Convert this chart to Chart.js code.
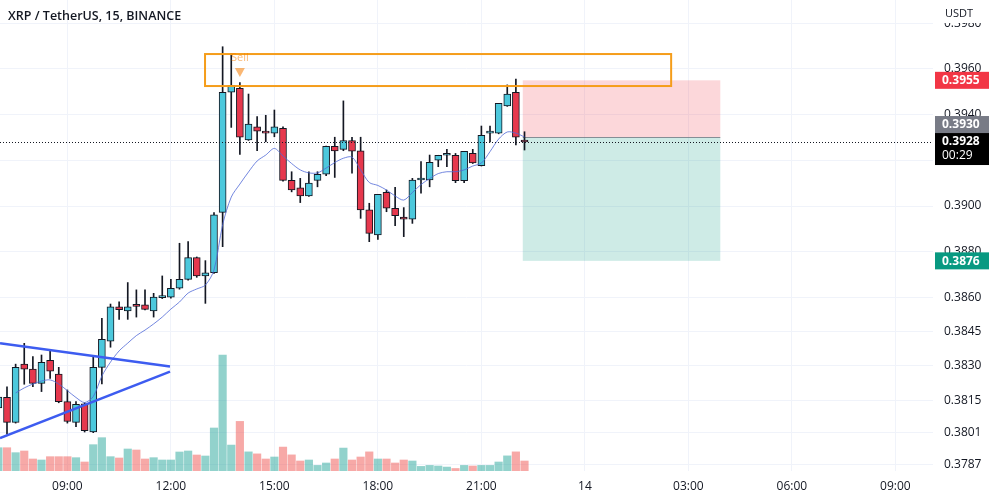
<!DOCTYPE html>
<html>
<head>
<meta charset="utf-8">
<script src="https://cdn.jsdelivr.net/npm/chart.js@4/dist/chart.umd.min.js"></script>
<style>
html, body { margin: 0; padding: 0; background: #fff; }
canvas { display: block; }
</style>
</head>
<body>
<canvas id="chart" width="992" height="501"></canvas>
<script>
// 15 min bars, bar 0 = 07:15, bar -1 = 07:00
const firstBar = -1;
const opens  = [0.38116,0.38163,0.38053,0.38308,0.38286,0.38224,0.38325,0.38264,0.38144,0.38053,0.38134,0.38011,0.38294,0.38409,0.38559,0.38541,0.38570,0.38568,0.38541,0.38599,0.38601,0.38640,0.38679,0.38774,0.38694,0.38708,0.38972,0.39498,0.39515,0.39289,0.39347,0.39327,0.39319,0.39340,0.39112,0.39080,0.39044,0.39112,0.39139,0.39261,0.39248,0.39286,0.39241,0.38983,0.38873,0.39060,0.38990,0.38952,0.38942,0.39114,0.39114,0.39201,0.39222,0.39222,0.39111,0.39230,0.39176,0.39319,0.39319,0.39438,0.39498,0.39289];
const highs  = [0.38173,0.38209,0.38308,0.38399,0.38341,0.38348,0.38370,0.38294,0.38195,0.38144,0.38139,0.38341,0.38509,0.38571,0.38581,0.38665,0.38633,0.38633,0.38618,0.38694,0.38679,0.38837,0.38844,0.38777,0.38761,0.38971,0.39697,0.39668,0.39540,0.39490,0.39391,0.39397,0.39420,0.39347,0.39150,0.39121,0.39150,0.39150,0.39262,0.39301,0.39460,0.39300,0.39301,0.39012,0.39051,0.39070,0.39082,0.38993,0.39121,0.39194,0.39223,0.39222,0.39248,0.39230,0.39239,0.39248,0.39350,0.39350,0.39449,0.39530,0.39555,0.39325];
const lows   = [0.38112,0.38002,0.38050,0.38220,0.38209,0.38188,0.38246,0.38139,0.38050,0.38034,0.38011,0.38008,0.38221,0.38382,0.38504,0.38504,0.38514,0.38545,0.38514,0.38595,0.38597,0.38636,0.38676,0.38688,0.38574,0.38705,0.38822,0.39344,0.39226,0.39287,0.39242,0.39281,0.39303,0.39109,0.39062,0.39015,0.39042,0.39084,0.39133,0.39125,0.39242,0.39144,0.38946,0.38844,0.38854,0.38975,0.38914,0.38866,0.38924,0.39056,0.39084,0.39172,0.39172,0.39102,0.39102,0.39186,0.39175,0.39281,0.39316,0.39436,0.39267,0.39245];
const closes = [0.38164,0.38053,0.38294,0.38286,0.38224,0.38316,0.38277,0.38144,0.38057,0.38132,0.38017,0.38294,0.38417,0.38559,0.38546,0.38559,0.38561,0.38548,0.38601,0.38601,0.38640,0.38679,0.38774,0.38694,0.38708,0.38961,0.39498,0.39528,0.39301,0.39358,0.39328,0.39319,0.39347,0.39112,0.39070,0.39044,0.39100,0.39139,0.39261,0.39241,0.39286,0.39240,0.38983,0.38880,0.39051,0.38990,0.38958,0.38942,0.39114,0.39121,0.39191,0.39222,0.39230,0.39111,0.39239,0.39189,0.39309,0.39321,0.39449,0.39490,0.39301,0.39280];
const volumes = [582,582,458,500,300,275,358,358,358,333,225,658,833,358,325,550,525,300,333,275,275,475,500,400,375,1075,2900,648,1240,478,428,300,350,598,403,250,275,140,200,300,573,275,350,478,300,300,200,275,250,115,140,125,98,63,140,125,140,140,225,378,478,250];

// moving average, from bar 1
const maStart = 1;
const ma = [0.38182,0.38204,0.38221,0.38234,0.38239,0.38221,0.38192,0.38162,0.38140,0.38166,0.38256,0.38317,0.38366,0.38400,0.38433,0.38457,0.38484,0.38514,0.38549,0.38580,0.38619,0.38637,0.38654,0.38720,0.38918,0.39039,0.39096,0.39149,0.39197,0.39223,0.39252,0.39219,0.39186,0.39158,0.39145,0.39145,0.39166,0.39190,0.39209,0.39214,0.39158,0.39103,0.39090,0.39070,0.39044,0.39026,0.39059,0.39094,0.39120,0.39142,0.39150,0.39150,0.39158,0.39175,0.39188,0.39238,0.39293,0.39324,0.39319,0.39302];

const trendUpper = [[-0.81, 0.38399], [18.9, 0.38298]];
const trendLower = [[-0.81, 0.37984], [18.9, 0.38275]];

const xTickPos = [7, 19, 31, 43, 55, 67, 79, 91, 103];
const xTickLabels = ['09:00', '12:00', '15:00', '18:00', '21:00', '14', '03:00', '06:00', '09:00'];
const yTicks = [0.3787, 0.3801, 0.3815, 0.3830, 0.3845, 0.3860, 0.3880, 0.3900, 0.3920, 0.3940, 0.3960, 0.3980];

const sellBox = { from: 22.96, to: 77.0, top: 0.39665, bottom: 0.39525 };
const sellBar = 27;
const entryPrice = 0.3930, stopPrice = 0.3955, targetPrice = 0.3876;
const positionFrom = 59.8, positionTo = 82.7;
const lastPrice = 0.3928, countdown = '00:29';

const FONT = "'Open Sans', 'Noto Sans', sans-serif";
const idx = opens.map((_, i) => firstBar + i);
const up = opens.map((o, i) => closes[i] >= o);

function tag(ctx, yc, bg, text) {
    ctx.fillStyle = bg;
    ctx.fillRect(935, yc - 8.5, 54, 17);
    ctx.fillStyle = '#fff';
    ctx.font = 'bold 12px ' + FONT;
    ctx.textBaseline = 'middle';
    ctx.textAlign = 'left';
    ctx.fillText(text, 942, yc + 0.5);
}

const overlay = {
    id: 'overlay',
    beforeDatasetsDraw(chart) {
        const { ctx, scales: { x, y } } = chart;
        const x0 = x.getPixelForValue(positionFrom), x1 = x.getPixelForValue(positionTo);
        const ye = y.getPixelForValue(entryPrice), ys = y.getPixelForValue(stopPrice), yt = y.getPixelForValue(targetPrice);
        ctx.save();
        ctx.fillStyle = 'rgba(242,54,69,0.2)';
        ctx.fillRect(x0, ys, x1 - x0, ye - ys);
        ctx.fillStyle = 'rgba(8,153,129,0.2)';
        ctx.fillRect(x0, ye, x1 - x0, yt - ye);
        ctx.strokeStyle = 'rgba(110,120,130,0.8)';
        ctx.lineWidth = 1;
        ctx.beginPath();
        ctx.moveTo(x0, Math.round(ye) + 0.5);
        ctx.lineTo(x1, Math.round(ye) + 0.5);
        ctx.stroke();
        ctx.restore();
    },
    afterDatasetsDraw(chart) {
        const { ctx, chartArea: a, scales: { x, y } } = chart;
        ctx.save();
        // last price dotted line
        const yl = Math.round(y.getPixelForValue(lastPrice)) + 0.5;
        ctx.strokeStyle = '#131722';
        ctx.lineWidth = 1;
        ctx.setLineDash([1, 2]);
        ctx.beginPath();
        ctx.moveTo(a.left, yl);
        ctx.lineTo(a.right, yl);
        ctx.stroke();
        ctx.setLineDash([]);
        // sell zone
        const bx0 = x.getPixelForValue(sellBox.from), bx1 = x.getPixelForValue(sellBox.to);
        const by0 = y.getPixelForValue(sellBox.top), by1 = y.getPixelForValue(sellBox.bottom);
        ctx.strokeStyle = '#f59d1a';
        ctx.lineWidth = 2;
        ctx.strokeRect(bx0, by0, bx1 - bx0, by1 - by0);
        // sell signal
        const sx = x.getPixelForValue(sellBar);
        ctx.fillStyle = 'rgba(245,124,0,0.55)';
        ctx.font = '11px ' + FONT;
        ctx.textAlign = 'center';
        ctx.textBaseline = 'middle';
        ctx.fillText('Sell', sx, 58);
        ctx.beginPath();
        ctx.moveTo(sx - 5, 68);
        ctx.lineTo(sx + 5, 68);
        ctx.lineTo(sx, 77);
        ctx.closePath();
        ctx.fill();
        ctx.restore();
    },
    afterDraw(chart) {
        const { ctx, scales: { y } } = chart;
        ctx.save();
        ctx.fillStyle = '#131722';
        ctx.font = '600 12.5px ' + FONT;
        ctx.textAlign = 'left';
        ctx.textBaseline = 'middle';
        ctx.fillText('XRP / TetherUS, 15, BINANCE', 8, 16);
        // axis header
        ctx.fillStyle = '#fff';
        ctx.fillRect(934, 0, 58, 23);
        ctx.fillStyle = '#131722';
        ctx.font = '11px ' + FONT;
        ctx.fillText('USDT', 945, 14);
        // price tags
        tag(ctx, y.getPixelForValue(stopPrice), '#f23645', stopPrice.toFixed(4));
        tag(ctx, y.getPixelForValue(targetPrice), '#089981', targetPrice.toFixed(4));
        const yl = y.getPixelForValue(lastPrice);
        const top = yl - 9;
        ctx.fillStyle = '#000';
        ctx.fillRect(935, top, 54, 32);
        ctx.fillStyle = '#fff';
        ctx.font = 'bold 12px ' + FONT;
        ctx.textBaseline = 'middle';
        ctx.fillText(lastPrice.toFixed(4), 942, top + 9);
        ctx.font = '12px ' + FONT;
        ctx.fillText(countdown, 942, top + 23);
        tag(ctx, top - 8.5, '#787b86', entryPrice.toFixed(4));
        ctx.restore();
    }
};

new Chart(document.getElementById('chart'), {
    type: 'bar',
    data: {
        datasets: [
            {
                type: 'line',
                data: trendUpper.map(p => ({ x: p[0], y: p[1] })),
                borderColor: '#3d5cf0',
                borderWidth: 2.5,
                pointRadius: 0,
                order: 0
            },
            {
                type: 'line',
                data: trendLower.map(p => ({ x: p[0], y: p[1] })),
                borderColor: '#3d5cf0',
                borderWidth: 2.5,
                pointRadius: 0,
                order: 0
            },
            {
                type: 'line',
                data: ma.map((v, i) => ({ x: maStart + i, y: v })),
                borderColor: 'rgba(80,105,215,0.8)',
                borderWidth: 1,
                pointRadius: 0,
                tension: 0.3,
                order: 1
            },
            {
                data: idx.map((x, i) => ({ x: x, y: [opens[i], closes[i]] })),
                backgroundColor: up.map(u => u ? '#4cc8dc' : '#e6384d'),
                borderColor: '#131722',
                borderWidth: 1,
                borderSkipped: false,
                barThickness: 7,
                minBarLength: 2,
                grouped: false,
                clip: 0,
                order: 2
            },
            {
                data: idx.map((x, i) => ({ x: x, y: [lows[i], highs[i]] })),
                backgroundColor: '#131722',
                barThickness: 1,
                grouped: false,
                clip: 0,
                order: 3
            },
            {
                yAxisID: 'vol',
                data: idx.map((x, i) => ({ x: x, y: volumes[i] })),
                backgroundColor: up.map(u => u ? 'rgba(38,166,154,0.5)' : 'rgba(239,83,80,0.5)'),
                barThickness: 7.5,
                grouped: false,
                clip: 0,
                order: 6
            }
        ]
    },
    options: {
        responsive: false,
        animation: false,
        layout: { padding: 0 },
        plugins: {
            legend: { display: false },
            tooltip: { enabled: false }
        },
        scales: {
            x: {
                type: 'linear',
                min: -0.8116,
                max: 107.36,
                offset: false,
                grid: { color: '#f0f3fa', drawTicks: false, offset: false },
                border: { display: false },
                afterBuildTicks: s => { s.ticks = xTickPos.map(v => ({ value: v })); },
                afterFit: s => { s.height = 30; s.paddingLeft = 0; s.paddingRight = 0; },
                ticks: {
                    autoSkip: false,
                    maxRotation: 0,
                    padding: 8,
                    color: '#131722',
                    font: { family: FONT, size: 12 },
                    callback: (v, i) => xTickLabels[i]
                }
            },
            y: {
                position: 'right',
                min: 0.378404,
                max: 0.399015,
                grid: { color: '#f0f3fa', drawTicks: false },
                border: { display: false },
                afterBuildTicks: s => { s.ticks = yTicks.map(v => ({ value: v })); },
                afterFit: s => { s.width = 59; s.paddingTop = 0; s.paddingBottom = 0; },
                ticks: {
                    padding: 11,
                    color: '#131722',
                    font: { family: FONT, size: 12 },
                    callback: v => v.toFixed(4)
                }
            },
            vol: {
                type: 'linear',
                axis: 'y',
                position: 'left',
                display: false,
                min: 0,
                max: 11775
            }
        }
    },
    plugins: [overlay]
});
</script>
</body>
</html>
